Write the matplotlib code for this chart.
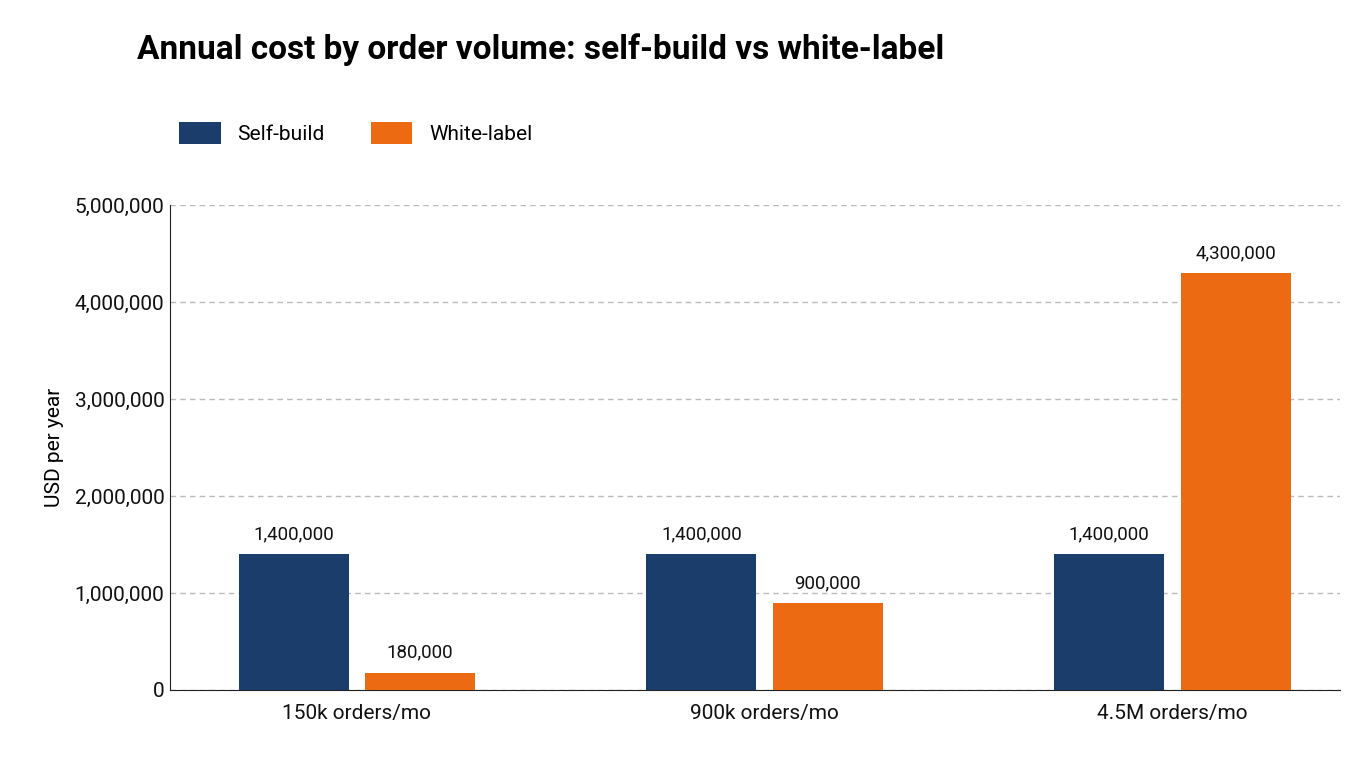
import matplotlib
matplotlib.use("Agg")
import matplotlib.pyplot as plt
import numpy as np
from matplotlib.ticker import FuncFormatter

categories = ["150k orders/mo", "900k orders/mo", "4.5M orders/mo"]
self_build = [1400000, 1400000, 1400000]
white_label = [180000, 900000, 4300000]
series_names = ["Self-build", "White-label"]

plt.rcParams['font.family'] = ['Roboto', 'DejaVu Sans']
fig = plt.figure(figsize=(13.6, 7.68), dpi=100)
ax = fig.add_axes([0.125, 0.1016, 0.86, 0.6315])
x = np.arange(len(categories))
w = 0.27; off = 0.155
c1, c2 = "#1b3d6b", "#eb6a12"
b1 = ax.bar(x - off, self_build, w, color=c1, label=series_names[0], zorder=3)
b2 = ax.bar(x + off, white_label, w, color=c2, label=series_names[1], zorder=3)
for bars in (b1, b2):
    for r in bars:
        ax.text(r.get_x() + r.get_width()/2, r.get_height() + 110000,
                f"{int(r.get_height()):,}", ha="center", va="bottom", fontsize=13.5, color="#111")
ax.set_xlim(-0.458, 2.41)
ax.set_ylim(0, 5000000)
ax.set_yticks(np.arange(0, 5000001, 1000000))
ax.yaxis.set_major_formatter(FuncFormatter(lambda v, p: f"{int(v):,}"))
ax.set_xticks(x)
ax.set_xticklabels(categories)
ax.tick_params(axis='both', labelsize=15, length=0, colors="#111")
ax.tick_params(axis='x', pad=10)
ax.tick_params(axis='y', pad=4)
ax.grid(axis='y', color="#bbbbbb", linestyle=(0, (4, 3)), linewidth=1, zorder=0)
for s in ("top", "right"):
    ax.spines[s].set_visible(False)
ax.spines['left'].set_color("#222")
ax.spines['bottom'].set_color("#222")
ax.set_ylabel("USD per year", fontsize=15, labelpad=8)
fig.text(0.101, 0.935, "Annual cost by order volume: self-build vs white-label",
         fontsize=24, fontweight="bold", va="center", ha="left")
fig.legend(handles=[b1, b2], loc="center left", bbox_to_anchor=(0.118, 0.827), ncol=2,
           frameon=False, fontsize=15, handlelength=2.0, handleheight=1.3, columnspacing=2.2)
fig.savefig("out.png", dpi=100)
